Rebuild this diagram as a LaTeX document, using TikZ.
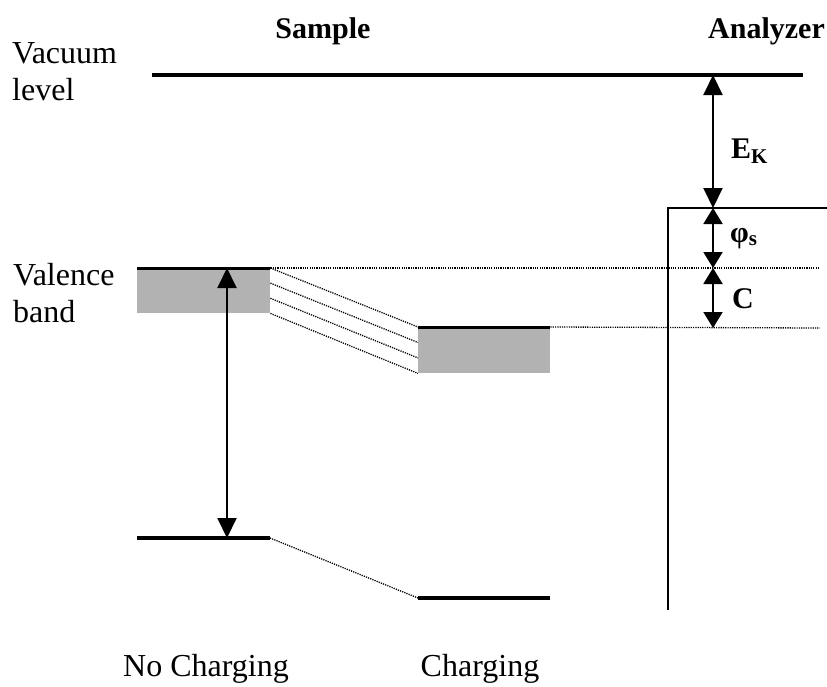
\documentclass[tikz,border=0pt]{standalone}
\usepackage{fontspec}
\setmainfont{Liberation Serif}
\usetikzlibrary{calc,positioning,arrows.meta}
\tikzset{
  level/.style={line width=4pt,-},
  dots/.style={line width=1.3pt,dash pattern=on 1.2pt off 1.1pt},
  bandbox/.style={fill=black!30,draw=none,anchor=north west,inner sep=0pt},
  dbl/.style={line width=2pt,{Triangle[width=19pt,length=20pt]}-{Triangle[width=19pt,length=20pt]}},
  dblsmall/.style={line width=2pt,{Triangle[width=19pt,length=16pt]}-{Triangle[width=19pt,length=16pt]}},
  lbl/.style={inner sep=0pt,font=\fontsize{32}{37}\selectfont},
  bold/.style={lbl,font=\fontsize{30}{37}\selectfont\bfseries}
}
\begin{document}
\begin{tikzpicture}[x=1pt,y=-1pt]
  \useasboundingbox (0,0) rectangle (827,686);

  % titles
  \node[bold,anchor=base] (sample) at (323,38) {Sample};
  \node[bold,anchor=base west] (analyzer) at (708,38) {Analyzer};
  \node[lbl,anchor=base west] (vac) at (12,63) {Vacuum};
  \node[lbl,anchor=base west] (vac2) at (12,100) {level};
  \node[lbl,anchor=base west] (val) at (13,285) {Valence};
  \node[lbl,anchor=base west] (val2) at (13,322) {band};
  \node[lbl,anchor=base] (nocharge) at (206,676) {No Charging};
  \node[lbl,anchor=base] (charge) at (480,676) {Charging};

  % vacuum level
  \coordinate (vacL) at (152,75);
  \coordinate (vacR) at (803,75);
  \draw[level] (vacL) -- (vacR);

  % valence bands
  \node[bandbox,minimum width=133pt,minimum height=45pt] (vb1) at (137,268) {};
  \node[bandbox,minimum width=132pt,minimum height=46pt] (vb2) at (418,327) {};
  \draw[line width=3pt] (vb1.north west) -- (vb1.north east);
  \draw[line width=3pt] (vb2.north west) -- (vb2.north east);
  \foreach \f in {0,1/3,2/3,1}
    \draw[dots] ($(vb1.north east)!\f!(vb1.south east)$) -- ($(vb2.north west)!\f!(vb2.south west)$);

  % core levels
  \coordinate (c1L) at (137,538);
  \coordinate (c1R) at (270,538);
  \coordinate (c2L) at (418,598);
  \coordinate (c2R) at (550,598);
  \draw[level] (c1L) -- (c1R);
  \draw[level] (c2L) -- (c2R);
  \draw[dots] (c1R) -- (c2L);

  % analyzer
  \coordinate (anB) at (668,610);
  \coordinate (anT) at (668,208);
  \coordinate (anR) at (827,208);
  \draw[line width=1.5pt] (anB) -- (anT) -- (anR);

  % reference lines
  \coordinate (ref1) at (820,268);
  \coordinate (ref2) at (820,328);
  \draw[dots] (vb1.north east) -- (ref1);
  \draw[dots] (vb2.north east) -- (ref2);

  % energies
  \coordinate (ekT) at (713,75);
  \coordinate (wf) at (713,208);
  \coordinate (vbm) at (713,268);
  \coordinate (vbm2) at (713,328);
  \draw[dbl] (ekT) -- (wf);
  \draw[dblsmall] (wf) -- (vbm);
  \draw[dblsmall] (vbm) -- (vbm2);
  \node[bold,anchor=base west] (ek) at (731,158) {E\textsubscript{K}};
  \node[bold,anchor=base west] (phi) at (730,242) {φ\textsubscript{s}};
  \node[bold,anchor=base west] (cc) at (732,308) {C};

  \coordinate (bvT) at (227,268);
  \coordinate (bvB) at (227,538);
  \draw[dbl] (bvB) -- (bvT);
\end{tikzpicture}
\end{document}
